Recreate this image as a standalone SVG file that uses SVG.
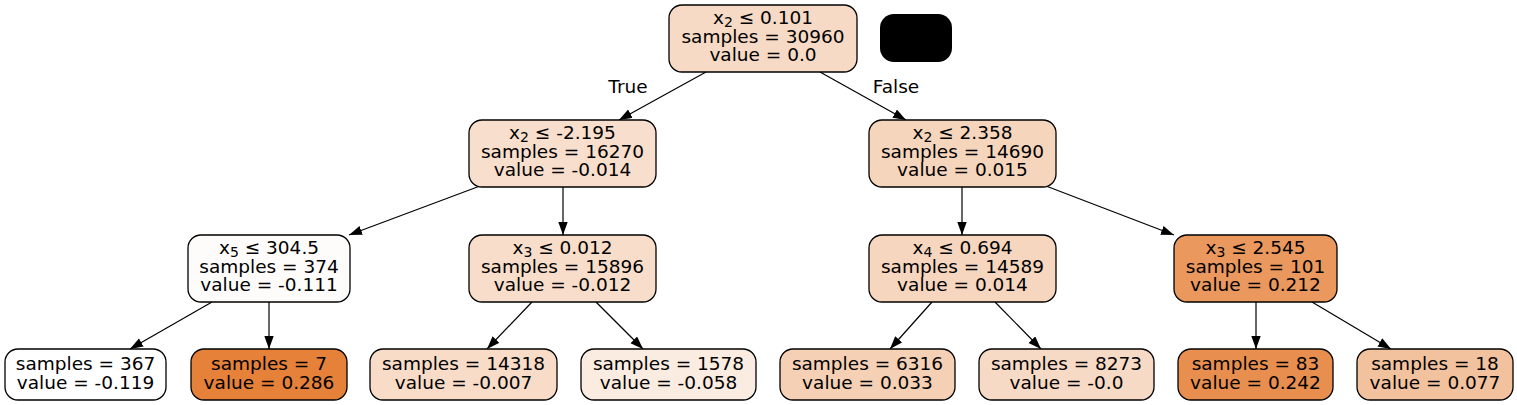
<svg xmlns="http://www.w3.org/2000/svg" width="1517" height="405" viewBox="0 0 1517 405">
<style>
.n rect{stroke:#000;stroke-width:1.3}
text{font-family:"DejaVu Sans",sans-serif;font-size:18.5px;text-anchor:middle;fill:#000}
.sub{font-size:14px}
#edges line{stroke:#000;stroke-width:1.2}
</style>
<defs>
<marker id="ah" markerUnits="userSpaceOnUse" markerWidth="14" markerHeight="10" refX="13" refY="4.7" orient="auto">
<path d="M0,0 L13,4.7 L0,9.4 Z" fill="#000"/>
</marker>
</defs>
<rect width="1517" height="405" fill="#fff"/>
<g id="edges">
<line x1="706" y1="72" x2="619" y2="120" marker-end="url(#ah)"/>
<line x1="820" y1="72" x2="906" y2="120" marker-end="url(#ah)"/>
<line x1="480" y1="186" x2="349" y2="235" marker-end="url(#ah)"/>
<line x1="563" y1="187" x2="563" y2="235" marker-end="url(#ah)"/>
<line x1="962" y1="187" x2="962" y2="235" marker-end="url(#ah)"/>
<line x1="1046" y1="186" x2="1174" y2="235" marker-end="url(#ah)"/>
<line x1="212" y1="302" x2="130" y2="349" marker-end="url(#ah)"/>
<line x1="269" y1="302" x2="269" y2="349" marker-end="url(#ah)"/>
<line x1="532" y1="302" x2="487" y2="349" marker-end="url(#ah)"/>
<line x1="596" y1="302" x2="643" y2="349" marker-end="url(#ah)"/>
<line x1="932" y1="302" x2="890" y2="349" marker-end="url(#ah)"/>
<line x1="995" y1="302" x2="1041" y2="349" marker-end="url(#ah)"/>
<line x1="1256" y1="302" x2="1256" y2="349" marker-end="url(#ah)"/>
<line x1="1312" y1="302" x2="1391" y2="349" marker-end="url(#ah)"/>
<text x="628" y="93">True</text>
<text x="896" y="93">False</text>
</g>
<g id="n0" class="n"><rect x="669" y="5" width="188" height="67" rx="13" fill="#f7dac5"/>
<text x="763" y="24">x<tspan class="sub" dy="3">2</tspan><tspan dy="-3"> ≤ 0.101</tspan></text>
<text x="763" y="42.5">samples = 30960</text><text x="763" y="61">value = 0.0</text></g>
<g id="nblack"><rect x="880" y="14" width="72" height="48" rx="14" fill="#000"/></g>
<g id="n1" class="n"><rect x="469" y="120" width="187" height="67" rx="13" fill="#f8decc"/>
<text x="562.5" y="139">x<tspan class="sub" dy="3">2</tspan><tspan dy="-3"> ≤ -2.195</tspan></text>
<text x="562.5" y="157.5">samples = 16270</text><text x="562.5" y="176">value = -0.014</text></g>
<g id="n2" class="n"><rect x="869" y="120" width="187" height="67" rx="13" fill="#f6d5bd"/>
<text x="962.5" y="139">x<tspan class="sub" dy="3">2</tspan><tspan dy="-3"> ≤ 2.358</tspan></text>
<text x="962.5" y="157.5">samples = 14690</text><text x="962.5" y="176">value = 0.015</text></g>
<g id="n3" class="n"><rect x="188" y="235" width="162" height="67" rx="13" fill="#fefcfb"/>
<text x="269" y="254">x<tspan class="sub" dy="3">5</tspan><tspan dy="-3"> ≤ 304.5</tspan></text>
<text x="269" y="272.5">samples = 374</text><text x="269" y="291">value = -0.111</text></g>
<g id="n4" class="n"><rect x="469" y="235" width="187" height="67" rx="13" fill="#f8deca"/>
<text x="562.5" y="254">x<tspan class="sub" dy="3">3</tspan><tspan dy="-3"> ≤ 0.012</tspan></text>
<text x="562.5" y="272.5">samples = 15896</text><text x="562.5" y="291">value = -0.012</text></g>
<g id="n5" class="n"><rect x="869" y="235" width="187" height="67" rx="13" fill="#f6d6be"/>
<text x="962.5" y="254">x<tspan class="sub" dy="3">4</tspan><tspan dy="-3"> ≤ 0.694</tspan></text>
<text x="962.5" y="272.5">samples = 14589</text><text x="962.5" y="291">value = 0.014</text></g>
<g id="n6" class="n"><rect x="1174" y="235" width="163" height="67" rx="13" fill="#ea985d"/>
<text x="1255.5" y="254">x<tspan class="sub" dy="3">3</tspan><tspan dy="-3"> ≤ 2.545</tspan></text>
<text x="1255.5" y="272.5">samples = 101</text><text x="1255.5" y="291">value = 0.212</text></g>
<g id="l1" class="n"><rect x="5" y="349" width="161" height="51" rx="13" fill="#ffffff"/>
<text x="85.5" y="369.5">samples = 367</text><text x="85.5" y="389">value = -0.119</text></g>
<g id="l2" class="n"><rect x="191" y="349" width="156" height="51" rx="13" fill="#e58139"/>
<text x="269" y="369.5">samples = 7</text><text x="269" y="389">value = 0.286</text></g>
<g id="l3" class="n"><rect x="370" y="349" width="187" height="51" rx="13" fill="#f8dcc8"/>
<text x="463.5" y="369.5">samples = 14318</text><text x="463.5" y="389">value = -0.007</text></g>
<g id="l4" class="n"><rect x="581" y="349" width="175" height="51" rx="13" fill="#fbece1"/>
<text x="668.5" y="369.5">samples = 1578</text><text x="668.5" y="389">value = -0.058</text></g>
<g id="l5" class="n"><rect x="780" y="349" width="175" height="51" rx="13" fill="#f5d0b5"/>
<text x="867.5" y="369.5">samples = 6316</text><text x="867.5" y="389">value = 0.033</text></g>
<g id="l6" class="n"><rect x="979" y="349" width="175" height="51" rx="13" fill="#f7dac5"/>
<text x="1066.5" y="369.5">samples = 8273</text><text x="1066.5" y="389">value = -0.0</text></g>
<g id="l7" class="n"><rect x="1178" y="349" width="155" height="51" rx="13" fill="#e88f4f"/>
<text x="1255.5" y="369.5">samples = 83</text><text x="1255.5" y="389">value = 0.242</text></g>
<g id="l8" class="n"><rect x="1357" y="349" width="156" height="51" rx="13" fill="#f2c29f"/>
<text x="1435" y="369.5">samples = 18</text><text x="1435" y="389">value = 0.077</text></g>
</svg>
